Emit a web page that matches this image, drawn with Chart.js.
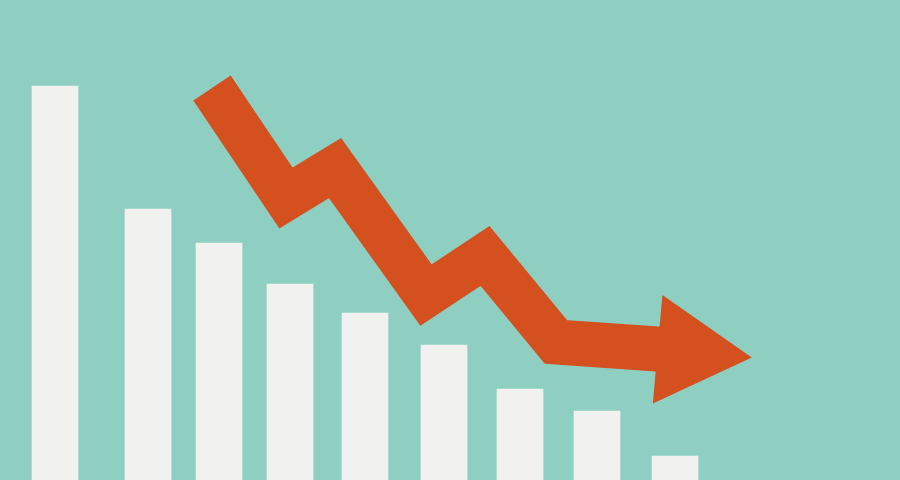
<!DOCTYPE html>
<html>
<head>
<meta charset="utf-8">
<script src="https://cdn.jsdelivr.net/npm/chart.js@4/dist/chart.umd.min.js"></script>
<style>
  html, body { margin: 0; padding: 0; background: #8ecfc1; }
  #wrap { width: 900px; height: 480px; }
</style>
</head>
<body>
<div id="wrap"><canvas id="drop"></canvas></div>
<script>
// bar positions and heights (same units as the hidden axes)
const barX = [55, 148, 219, 290, 365, 444, 520, 597, 675];
const barHeights = [394, 271, 237, 196, 167, 135, 91, 69, 24];

// zigzag arrow path, last point is the arrow head
const arrowX = [212, 286, 335, 426, 485, 556, 657, 689];
const arrowY = [392, 282, 312, 185, 224, 138, 131, 128];

const bars = barX.map((x, i) => ({ x: x, y: barHeights[i] }));
const arrow = arrowX.map((x, i) => ({ x: x, y: arrowY[i] }));

const ctx = document.getElementById("drop").getContext("2d");
new Chart(ctx, {
  data: {
    datasets: [
      {
        type: "line",
        data: arrow,
        borderColor: "#d4501f",
        borderWidth: 45,
        borderCapStyle: "butt",
        borderJoinStyle: "miter",
        tension: 0,
        fill: false,
        pointStyle: "triangle",
        pointRotation: 95,
        pointRadius: (c) => (c.dataIndex === arrow.length - 1 ? 63 : 0),
        pointBackgroundColor: "#d4501f",
        pointBorderWidth: 0,
        clip: false,
        order: 0,
      },
      {
        type: "bar",
        data: bars,
        backgroundColor: "#f1f1ef",
        borderWidth: 0,
        barThickness: 46,
        grouped: false,
        order: 1,
      },
    ],
  },
  options: {
    responsive: true,
    maintainAspectRatio: false,
    animation: false,
    events: [],
    layout: { padding: 0, autoPadding: false },
    plugins: { legend: { display: false }, tooltip: { enabled: false } },
    scales: {
      x: { type: "linear", min: 0, max: 900, offset: false, display: false },
      y: { type: "linear", min: 0, max: 480, display: false },
    },
  },
});
</script>
</body>
</html>
